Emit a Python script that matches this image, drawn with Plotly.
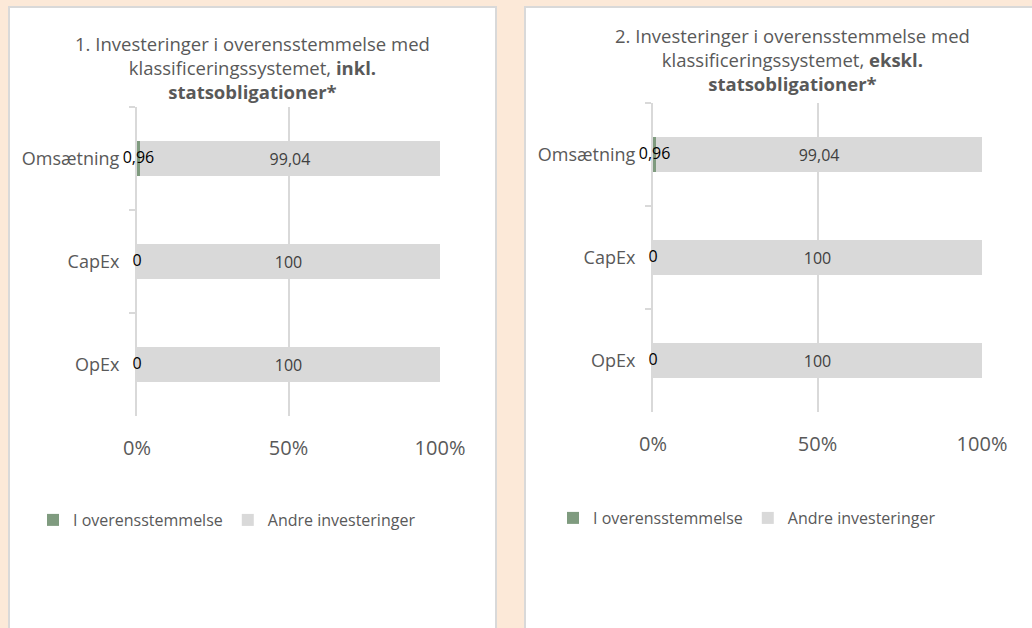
import plotly.graph_objects as go

# ---- data ----
categories = ["Omsætning", "CapEx", "OpEx"]
aligned_incl = [0.96, 0, 0]
other_incl = [99.04, 100, 100]
aligned_excl = [0.96, 0, 0]
other_excl = [99.04, 100, 100]
series_names = ["I overensstemmelse", "Andre investeringer"]
tick_vals = [0, 50, 100]
tick_text = ["0%", "50%", "100%"]
title_left = "1. Investeringer i overensstemmelse med<br>klassificeringssystemet, <b>inkl.</b><br><b>statsobligationer*</b>"
title_right = "2. Investeringer i overensstemmelse med<br>klassificeringssystemet, <b>ekskl.</b><br><b>statsobligationer*</b>"

GREEN = "#7F9B7F"
GREY = "#D9D9D9"
TXT = "#595959"
BG = "#FCE9D8"
FONT = "Open Sans"
W, H = 1032, 628


def fmt(v):
    if float(v).is_integer():
        return str(int(v))
    return f"{v:.2f}".replace(".", ",")


def px_x(p):
    return p / W


def px_y(p):
    return 1 - p / H


fig = go.Figure()

panels = [
    dict(aligned=aligned_incl, other=other_incl, xa="x", ya="y", legend="legend"),
    dict(aligned=aligned_excl, other=other_excl, xa="x2", ya="y2", legend="legend2"),
]

for p in panels:
    fig.add_trace(go.Bar(
        y=categories, x=p["aligned"], orientation="h", name=series_names[0],
        marker=dict(color=GREEN, line=dict(width=0)),
        xaxis=p["xa"], yaxis=p["ya"], legend=p["legend"], hoverinfo="skip",
    ))
    fig.add_trace(go.Bar(
        y=categories, x=p["other"], orientation="h", name=series_names[1],
        marker=dict(color=GREY, line=dict(width=0)),
        text=[fmt(v) for v in p["other"]], textposition="inside",
        insidetextanchor="middle", constraintext="none", textangle=0,
        textfont=dict(family=FONT, size=16, color="#404040"),
        xaxis=p["xa"], yaxis=p["ya"], legend=p["legend"], hoverinfo="skip",
    ))
    fig.add_trace(go.Scatter(
        y=categories, x=[v / 2 for v in p["aligned"]], mode="text",
        text=[fmt(v) for v in p["aligned"]], textposition="middle center",
        textfont=dict(family=FONT, size=16, color="#000000"),
        showlegend=False, cliponaxis=False, hoverinfo="skip",
        xaxis=p["xa"], yaxis=p["ya"],
    ))

xcommon = dict(range=[0, 100], tickvals=tick_vals, ticktext=tick_text,
               showgrid=True, gridcolor=GREY, gridwidth=1.5, zeroline=False,
               showline=False, ticks="", ticklabelstandoff=18, automargin=False,
               tickfont=dict(family=FONT, size=20, color=TXT), fixedrange=True)
ycommon = dict(categoryorder="array", categoryarray=categories, autorange="reversed",
               showline=True, linecolor=GREY, linewidth=2, showgrid=False,
               ticks="outside", ticklen=6, tickcolor=GREY, tickwidth=1.5,
               tickson="boundaries", ticklabelstandoff=12, automargin=False,
               layer="below traces",
               tickfont=dict(family=FONT, size=18, color=TXT), fixedrange=True)

fig.update_layout(
    width=W, height=H, autosize=False,
    margin=dict(l=0, r=0, t=0, b=0, pad=0),
    paper_bgcolor=BG, plot_bgcolor="white",
    barmode="stack", bargap=0.66,
    font=dict(family=FONT, color=TXT),
    xaxis=dict(domain=[px_x(137), px_x(440)], anchor="y", **xcommon),
    yaxis=dict(domain=[px_y(416), px_y(107)], anchor="x", **ycommon),
    xaxis2=dict(domain=[px_x(653), px_x(982)], anchor="y2", **xcommon),
    yaxis2=dict(domain=[px_y(412), px_y(103)], anchor="x2", **ycommon),
    legend=dict(orientation="h", x=px_x(33), y=px_y(520), xanchor="left", yanchor="middle",
                traceorder="normal", bgcolor="rgba(0,0,0,0)",
                font=dict(family=FONT, size=16, color=TXT)),
    legend2=dict(orientation="h", x=px_x(553), y=px_y(518), xanchor="left", yanchor="middle",
                 traceorder="normal", bgcolor="rgba(0,0,0,0)",
                 font=dict(family=FONT, size=16, color=TXT)),
    shapes=[
        dict(type="rect", xref="paper", yref="paper", x0=px_x(9), x1=px_x(496),
             y0=-0.05, y1=px_y(7), fillcolor="white", line=dict(color=GREY, width=2),
             layer="below"),
        dict(type="rect", xref="paper", yref="paper", x0=px_x(525), x1=1.05,
             y0=-0.05, y1=px_y(7), fillcolor="white", line=dict(color=GREY, width=2),
             layer="below"),
    ],
    annotations=[
        dict(text=title_left, xref="paper", yref="paper", x=px_x(252), y=px_y(67),
             xanchor="center", yanchor="middle", showarrow=False, align="center",
             font=dict(family=FONT, size=18.5, color=TXT)),
        dict(text=title_right, xref="paper", yref="paper", x=px_x(792), y=px_y(60),
             xanchor="center", yanchor="middle", showarrow=False, align="center",
             font=dict(family=FONT, size=18.5, color=TXT)),
    ],
)

fig.write_html(
    "out.html",
    config={"displayModeBar": False},
    post_script="document.body.style.margin='0';document.body.style.overflow='hidden';",
)
